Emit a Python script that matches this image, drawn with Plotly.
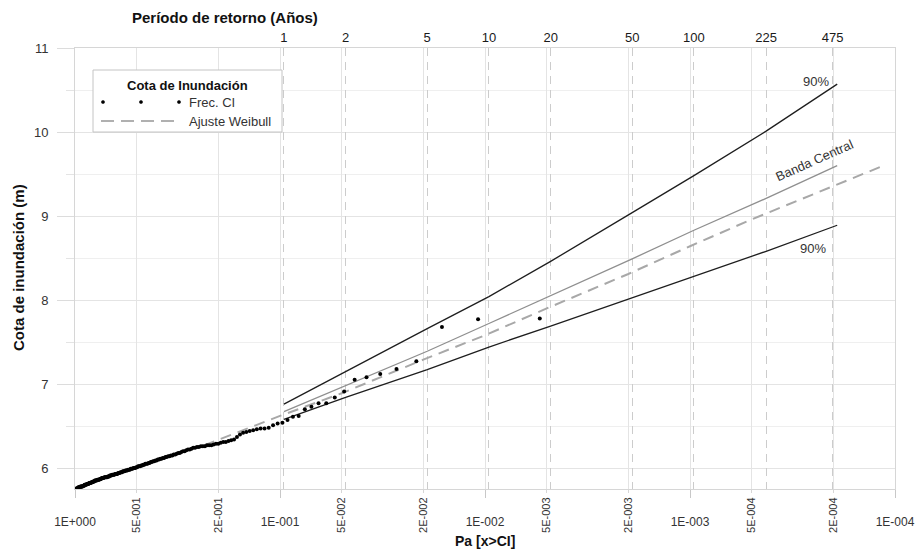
import math
import plotly.graph_objects as go

# ---------------------------------------------------------------------------
# Data
# ---------------------------------------------------------------------------
# Observed flood levels (m), sorted from largest (rank 1) to smallest
cota_obs = [
    7.78, 7.77, 7.68, 7.27, 7.18, 7.12, 7.08, 7.05, 6.91, 6.84,
    6.77, 6.77, 6.73, 6.70, 6.62, 6.61, 6.57, 6.54, 6.53, 6.51,
    6.48, 6.47, 6.47, 6.46, 6.45, 6.44, 6.43, 6.42, 6.40, 6.37,
    6.34, 6.33, 6.32, 6.31, 6.31, 6.30, 6.29, 6.29, 6.28, 6.27,
    6.27, 6.27, 6.26, 6.26, 6.26, 6.25, 6.25, 6.24, 6.24, 6.23,
    6.22, 6.22, 6.21, 6.20, 6.20, 6.19, 6.18, 6.18, 6.17, 6.16,
    6.16, 6.15, 6.15, 6.14, 6.14, 6.13, 6.13, 6.12, 6.12, 6.11,
    6.11, 6.10, 6.10, 6.09, 6.09, 6.08, 6.08, 6.07, 6.07, 6.06,
    6.06, 6.05, 6.05, 6.05, 6.04, 6.04, 6.03, 6.03, 6.02, 6.02,
    6.02, 6.01, 6.01, 6.00, 6.00, 6.00, 5.99, 5.99, 5.99, 5.98,
    5.98, 5.98, 5.97, 5.97, 5.97, 5.96, 5.96, 5.96, 5.95, 5.95,
    5.95, 5.94, 5.94, 5.94, 5.93, 5.93, 5.93, 5.93, 5.92, 5.92,
    5.92, 5.92, 5.91, 5.91, 5.91, 5.90, 5.90, 5.90, 5.89, 5.89,
    5.89, 5.89, 5.89, 5.88, 5.88, 5.88, 5.88, 5.87, 5.87, 5.87,
    5.86, 5.86, 5.86, 5.86, 5.85, 5.85, 5.85, 5.85, 5.84, 5.84,
    5.84, 5.83, 5.83, 5.83, 5.82, 5.82, 5.82, 5.82, 5.81, 5.81,
    5.81, 5.81, 5.80, 5.80, 5.80, 5.80, 5.79, 5.79, 5.79, 5.78,
    5.78, 5.78, 5.78, 5.78, 5.77, 5.77, 5.77, 5.77, 5.76, 5.76,
    5.76, 5.75, 5.75, 5.74,
]

# Mean number of storm events per year (links Pa with the return period)
eventos_por_ano = 10.45

# Return periods shown on the top axis (years)
periodos = [1, 2, 5, 10, 20, 50, 100, 225, 475]

# Weibull fit: exceedance probability and flood level (m)
pa_weibull = [0.235, 0.1, 0.05, 0.02, 0.01, 0.005, 0.002, 0.001, 0.0005, 0.0002, 0.000115]
cota_weibull = [6.27, 6.62, 6.89, 7.29, 7.58, 7.90, 8.31, 8.64, 8.96, 9.36, 9.595]

# Confidence bands, evaluated at these return periods (years)
t_banda = [1, 2, 5, 10, 20, 50, 100, 225, 500]
banda_sup = [6.76, 7.15, 7.66, 8.04, 8.46, 9.04, 9.48, 10.01, 10.57]
banda_cen = [6.67, 6.98, 7.39, 7.72, 8.05, 8.49, 8.83, 9.21, 9.60]
banda_inf = [6.58, 6.84, 7.17, 7.44, 7.69, 8.03, 8.28, 8.58, 8.89]

# Bottom axis ticks
pa_mayores = [1, 1e-1, 1e-2, 1e-3, 1e-4]
txt_mayores = ["1E+000", "1E-001", "1E-002", "1E-003", "1E-004"]
pa_menores = [0.5, 0.2, 0.05, 0.02, 0.005, 0.002, 0.0005, 0.0002]
txt_menores = ["5E-001", "2E-001", "5E-002", "2E-002", "5E-003", "2E-003", "5E-004", "2E-004"]

# ---------------------------------------------------------------------------
# Derived quantities
# ---------------------------------------------------------------------------
n_obs = len(cota_obs)
pa_obs = [(i + 1) / (n_obs + 1) for i in range(n_obs)]          # Weibull plotting position
pa_periodos = [1.0 / (eventos_por_ano * t) for t in periodos]
pa_banda = [1.0 / (eventos_por_ano * t) for t in t_banda]

FONT = "Liberation Sans, Arial, sans-serif"
W, H = 919, 554
ML, MR, MT, MB = 75, 24, 48, 65
PW, PH = W - ML - MR, H - MT - MB


def px(xp):
    return (xp - ML) / PW


def py(yp):
    return (H - MB - yp) / PH


fig = go.Figure()

# Confidence bands
fig.add_trace(go.Scatter(x=pa_banda, y=banda_sup, mode="lines",
                         line=dict(color="#1e1e1e", width=1.3), hoverinfo="skip"))
fig.add_trace(go.Scatter(x=pa_banda, y=banda_inf, mode="lines",
                         line=dict(color="#1e1e1e", width=1.3), hoverinfo="skip"))
fig.add_trace(go.Scatter(x=pa_banda, y=banda_cen, mode="lines",
                         line=dict(color="#8f8f8f", width=1.3), hoverinfo="skip"))

# Weibull fit
fig.add_trace(go.Scatter(x=pa_weibull, y=cota_weibull, mode="lines",
                         line=dict(color="#a8a8a8", width=2, dash="11px,7px"),
                         hoverinfo="skip"))

# Observed levels
fig.add_trace(go.Scatter(x=pa_obs, y=cota_obs, mode="markers",
                         marker=dict(color="#000000", size=4)))

# Overlay axes need a trace each to be drawn
fig.add_trace(go.Scatter(x=[pa_menores[0]], y=[None], xaxis="x3", showlegend=False,
                         hoverinfo="skip"))
fig.add_trace(go.Scatter(x=[pa_periodos[0]], y=[None], xaxis="x2", showlegend=False,
                         hoverinfo="skip"))

axis_common = dict(type="log", range=[0, -4], anchor="y", automargin=False)

fig.update_layout(
    width=W, height=H,
    margin=dict(l=ML, r=MR, t=MT, b=MB, autoexpand=False),
    paper_bgcolor="white", plot_bgcolor="white",
    showlegend=False,
    font=dict(family=FONT, color="#333333", size=12),
    xaxis=dict(
        **axis_common,
        tickmode="array", tickvals=pa_mayores, ticktext=txt_mayores,
        showgrid=True, gridcolor="#e4e4e4", gridwidth=1,
        ticks="outside", ticklen=8, tickcolor="#c8c8c8",
        ticklabelstandoff=14,
        tickfont=dict(size=12, color="#333333"),
        showline=True, linecolor="#d6d6d6", mirror=True,
        zeroline=False,
    ),
    xaxis3=dict(
        **axis_common, overlaying="x", side="bottom",
        tickmode="array", tickvals=pa_menores, ticktext=txt_menores,
        tickangle=-90,
        showgrid=True, gridcolor="#e4e4e4", gridwidth=1,
        ticks="outside", ticklen=3, tickcolor="#d6d6d6",
        tickfont=dict(size=11, color="#333333"),
        showline=False, zeroline=False,
    ),
    xaxis2=dict(
        **axis_common, overlaying="x", side="top",
        tickmode="array", tickvals=pa_periodos, ticktext=[str(t) for t in periodos],
        showgrid=True, gridcolor="#cccccc", gridwidth=1, griddash="8px,6px",
        ticks="", ticklabelstandoff=2,
        tickfont=dict(size=13, color="#1a1a1a"),
        showline=False, zeroline=False,
    ),
    yaxis=dict(
        range=[5.75, 11], automargin=False,
        tickmode="array", tickvals=[6, 7, 8, 9, 10, 11],
        showgrid=True, gridcolor="#e4e4e4", gridwidth=1,
        ticks="outside", ticklen=17, tickcolor="#dcdcdc",
        ticklabelstandoff=6,
        tickfont=dict(size=13, color="#333333"),
        minor=dict(tickmode="linear", tick0=5.5, dtick=0.5, showgrid=True,
                   gridcolor="#efefef", ticks="outside", ticklen=8,
                   tickcolor="#e4e4e4"),
        showline=True, linecolor="#d6d6d6", mirror=True,
        zeroline=False,
    ),
)

annotations = []

# Axis titles
annotations.append(dict(text="<b>Cota de inundación (m)</b>", xref="paper", yref="paper",
                        x=px(18), y=py(268), xanchor="center", yanchor="middle",
                        textangle=-90, showarrow=False,
                        font=dict(size=15, color="#111111")))
annotations.append(dict(text="<b>Pa [x>CI]</b>", xref="paper", yref="paper",
                        x=0.5, y=py(541), xanchor="center", yanchor="middle",
                        showarrow=False, font=dict(size=14, color="#111111")))
annotations.append(dict(text="<b>Período de retorno (Años)</b>", xref="paper", yref="paper",
                        x=px(225), y=py(18), xanchor="center", yanchor="middle",
                        showarrow=False, font=dict(size=15, color="#111111")))

# Band labels, placed next to the end of each band
x_end = math.log10(pa_banda[-1])
annotations.append(dict(text="90%", x=x_end, y=banda_sup[-1], xref="x", yref="y",
                        xanchor="right", yanchor="middle", xshift=-6, yshift=3,
                        showarrow=False, font=dict(size=13, color="#333333")))
annotations.append(dict(text="Banda Central", x=x_end, y=banda_cen[-1], xref="x", yref="y",
                        xanchor="center", yanchor="middle", xshift=-23, yshift=5,
                        textangle=-24, showarrow=False,
                        font=dict(size=13, color="#333333")))
annotations.append(dict(text="90%", x=x_end, y=banda_inf[-1], xref="x", yref="y",
                        xanchor="right", yanchor="middle", xshift=-9, yshift=-23,
                        showarrow=False, font=dict(size=13, color="#333333")))

# Legend box
shapes = []
shapes.append(dict(type="rect", xref="paper", yref="paper",
                   x0=px(93), x1=px(282), y0=py(132), y1=py(70),
                   line=dict(color="#c4c4c4", width=1), fillcolor="white", layer="above"))
annotations.append(dict(text="<b>Cota de Inundación</b>", xref="paper", yref="paper",
                        x=px(187), y=py(86), xanchor="center", yanchor="middle",
                        showarrow=False, font=dict(size=13, color="#111111")))
for xd in (103, 141, 179):
    shapes.append(dict(type="circle", xref="paper", yref="paper",
                       x0=px(xd - 1.6), x1=px(xd + 1.6), y0=py(102 + 1.6), y1=py(102 - 1.6),
                       line=dict(color="#000000", width=0.5), fillcolor="#000000",
                       layer="above"))
annotations.append(dict(text="Frec. CI", xref="paper", yref="paper",
                        x=px(187), y=py(102), xanchor="left", yanchor="middle",
                        showarrow=False, font=dict(size=13, color="#333333")))
shapes.append(dict(type="line", xref="paper", yref="paper",
                   x0=px(101), x1=px(176), y0=py(121), y1=py(121),
                   line=dict(color="#b0b0b0", width=2, dash="13px,7px"), layer="above"))
annotations.append(dict(text="Ajuste Weibull", xref="paper", yref="paper",
                        x=px(187), y=py(121), xanchor="left", yanchor="middle",
                        showarrow=False, font=dict(size=13, color="#333333")))

fig.update_layout(annotations=annotations, shapes=shapes)

fig.write_html("out.html")
